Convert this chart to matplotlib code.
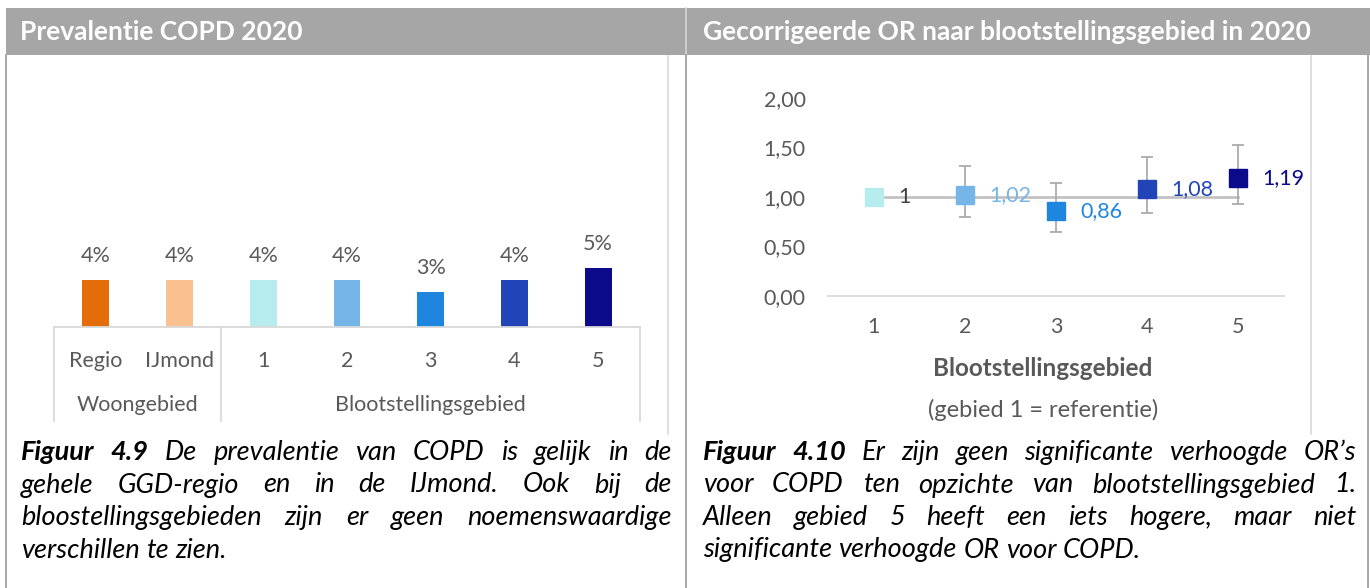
import matplotlib
matplotlib.use("Agg")
import matplotlib.pyplot as plt
from matplotlib.transforms import blended_transform_factory

plt.rcParams['font.family'] = ['Lato', 'DejaVu Sans']

# --- data: prevalence chart (left)
prev_labels = ['Regio', 'IJmond', '1', '2', '3', '4', '5']
prev_values = [4, 4, 4, 4, 3, 4, 5]
prev_colors = ['#e46c0a', '#fac090', '#b7ecee', '#75b5e8', '#1f86e0', '#2145b8', '#0b0a8b']
group_names = ['Woongebied', 'Blootstellingsgebied']
group_first = [0, 2]
group_last = [1, 6]

# --- data: odds ratio chart (right)
or_areas = ['1', '2', '3', '4', '5']
or_values = [1.00, 1.02, 0.86, 1.08, 1.19]
or_low = [1.00, 0.80, 0.65, 0.84, 0.93]
or_high = [1.00, 1.31, 1.14, 1.40, 1.53]
or_text = ['1', '1,02', '0,86', '1,08', '1,19']
or_colors = ['#b7ecee', '#75b5e8', '#1f86e0', '#2145b8', '#0b0a8b']
or_text_colors = ['#404040', '#75b5e8', '#1f86e0', '#2145b8', '#0b0a8b']
or_yticks = [0, 0.5, 1.0, 1.5, 2.0]

headers = ['Prevalentie COPD 2020', 'Gecorrigeerde OR naar blootstellingsgebied in 2020']
cap_left = [[('Figuur', 1), ('4.9', 1), ('De', 0), ('prevalentie', 0), ('van', 0), ('COPD', 0),
             ('is', 0), ('gelijk', 0), ('in', 0), ('de', 0)],
            'gehele GGD-regio en in de IJmond. Ook bij de',
            'bloostellingsgebieden zijn er geen noemenswaardige',
            'verschillen te zien.']
cap_right = [[('Figuur', 1), ('4.10', 1), ('Er', 0), ('zijn', 0), ('geen', 0), ('significante', 0),
              ('verhoogde', 0), ('OR’s', 0)],
             'voor COPD ten opzichte van blootstellingsgebied 1.',
             'Alleen gebied 5 heeft een iets hogere, maar niet',
             'significante verhoogde OR voor COPD.']

W, H = 1370, 588
TXT = '#595959'
FS = 15.5
fig = plt.figure(figsize=(W / 100, H / 100), dpi=100)

# background axes in pixel coordinates (for the table layout)
bg = fig.add_axes([0, 0, 1, 1])
bg.set_xlim(0, W)
bg.set_ylim(H, 0)
bg.axis('off')

bg.add_patch(plt.Rectangle((6, 8), W - 6, 47, color='#a6a6a6', lw=0))
bg.plot([686.5, 686.5], [8, 55], color='#d4d4d4', lw=1.2)
for xb in [6.5, 686.5, 1368]:
    bg.plot([xb, xb], [55, H], color='#a0a0a0', lw=1.3)
for xb in [668, 1311]:
    bg.plot([xb, xb], [56, 434], color='#d9d9d9', lw=1.2)
bg.text(20, 32, headers[0], color='white', fontsize=19, weight='bold', va='center')
bg.text(703, 32, headers[1], color='white', fontsize=19, weight='bold', va='center')

# ---------------- left: bar chart
ax1 = fig.add_axes([54 / W, 1 - 327 / H, 586 / W, 70.5 / H])
xs = range(len(prev_values))
ax1.bar(xs, prev_values, width=0.32, color=prev_colors)
ax1.set_xlim(-0.5, len(prev_values) - 0.5)
ax1.set_ylim(0, 6)
for s in ['top', 'right', 'left']:
    ax1.spines[s].set_visible(False)
ax1.spines['bottom'].set_color('#d9d9d9')
ax1.spines['bottom'].set_linewidth(1.3)
ax1.set_yticks([])
ax1.set_xticks(list(xs))
ax1.set_xticklabels(prev_labels, fontsize=FS, color=TXT)
ax1.tick_params(axis='x', length=0, pad=17)
for x, v in zip(xs, prev_values):
    ax1.annotate(f'{v}%', (x, v), xytext=(0, 13), textcoords='offset points',
                 ha='center', va='baseline', fontsize=FS, color=TXT)
tr1 = blended_transform_factory(ax1.transData, bg.transData)
seps = [group_first[0] - 0.5] + [g + 0.5 for g in group_last]
for sx in seps:
    ax1.plot([sx, sx], [327, 421], color='#d9d9d9', lw=1.3, transform=tr1, clip_on=False)
for name, a, b in zip(group_names, group_first, group_last):
    ax1.text((a + b) / 2, 405, name, transform=tr1, ha='center', va='center',
             fontsize=FS, color=TXT)

# ---------------- right: OR chart
ax2 = fig.add_axes([828 / W, 1 - 296 / H, 456 / W, 198 / H])
pos = range(1, len(or_values) + 1)
ax2.plot(list(pos), [1.0] * len(or_values), color='#bfbfbf', lw=1.9, zorder=1)
for p, v, lo, hi, c, t, tc in zip(pos, or_values, or_low, or_high, or_colors, or_text, or_text_colors):
    if hi > lo:
        ax2.errorbar(p, v, yerr=[[v - lo], [hi - v]], fmt='none', ecolor='#a6a6a6',
                     elinewidth=1.2, capsize=4.5, capthick=1.2, zorder=2)
    ax2.plot(p, v, marker='s', markersize=13.5, color=c, linestyle='none', zorder=3)
    ax2.annotate(t, (p, v), xytext=(17.5, 0), textcoords='offset points', ha='left',
                 va='center', fontsize=FS, color=tc, zorder=4)
ax2.set_xlim(0.5, len(or_values) + 0.5)
ax2.set_ylim(0, 2)
for s in ['top', 'right', 'left']:
    ax2.spines[s].set_visible(False)
ax2.spines['bottom'].set_color('#d9d9d9')
ax2.spines['bottom'].set_linewidth(1.3)
ax2.set_xticks(list(pos))
ax2.set_xticklabels(or_areas, fontsize=FS, color=TXT)
ax2.set_yticks(or_yticks)
ax2.set_yticklabels([f'{v:.2f}'.replace('.', ',') for v in or_yticks], fontsize=FS, color=TXT)
ax2.tick_params(axis='x', length=0, pad=15)
ax2.tick_params(axis='y', length=0, pad=16)
bg.text(1043, 369, 'Blootstellingsgebied', fontsize=17.5, weight='bold', color=TXT,
        ha='center', va='center')
bg.text(1043, 410, '(gebied 1 = referentie)', fontsize=17, color=TXT, ha='center', va='center')

# ---------------- justified captions
renderer = fig.canvas.get_renderer()


def caption(lines, x0, x1, y0, dy, size):
    sp = bg.text(0, 0, 'a a', fontsize=size, style='italic')
    nsp = bg.text(0, 0, 'aa', fontsize=size, style='italic')
    space = sp.get_window_extent(renderer).width - nsp.get_window_extent(renderer).width
    sp.remove()
    nsp.remove()
    for i, line in enumerate(lines):
        words = line if isinstance(line, list) else [(w, 0) for w in line.split()]
        y = y0 + i * dy
        arts = [bg.text(0, y, w, fontsize=size, style='italic', color='black',
                        weight='bold' if b else 'normal', va='baseline', ha='left')
                for w, b in words]
        widths = [a.get_window_extent(renderer).width for a in arts]
        if i == len(lines) - 1:
            gap = space
        else:
            gap = (x1 - x0 - sum(widths)) / (len(arts) - 1)
        x = x0
        for a, w in zip(arts, widths):
            a.set_x(x)
            x += w + gap


caption(cap_left, 21, 672, 460, 32.5, 19.5)
caption(cap_right, 703, 1356, 460, 32.5, 19.5)

fig.savefig('out.png', dpi=100)
